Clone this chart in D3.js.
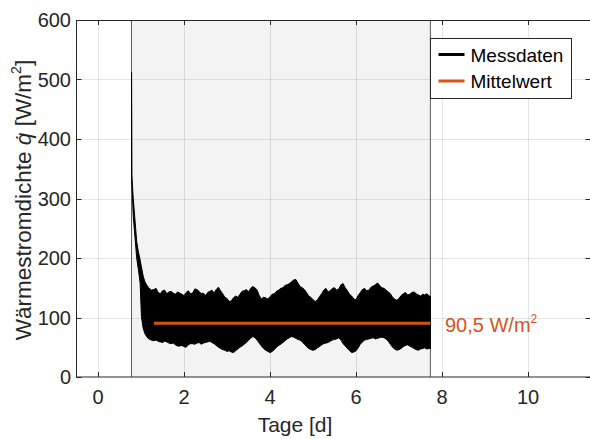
<!DOCTYPE html>
<html>
<head>
<meta charset="utf-8">
<script src="https://cdn.jsdelivr.net/npm/d3@7"></script>
<style>
    body { margin: 0; background: #fff; }
    svg { display: block; font-family: "Liberation Sans", Arial, sans-serif; }
</style>
</head>
<body>
<svg id="chart" width="590" height="439"></svg>
<script>
// --- Data ---
const xTicks = [0, 2, 4, 6, 8, 10];
const yTicks = [0, 100, 200, 300, 400, 500, 600];
const windowStart = 0.78;   // shaded evaluation window [d]
const windowEnd = 7.73;
const meanValue = 90.5;     // W/m²
const meanStart = 1.3;
const meanLabel = '90,5 W/m';

// envelope of the measured signal (days, upper/lower bound in W/m²)
const days = [0.78, 0.785, 0.82, 0.86, 0.90, 0.94, 0.98, 1.01, 1.05, 1.09, 1.13, 1.18, 1.24,
    1.3, 1.4, 1.5, 1.6, 1.7, 1.8, 1.9, 2.0, 2.1, 2.2, 2.3, 2.4, 2.5, 2.6, 2.7, 2.8, 2.9,
    3.0, 3.1, 3.2, 3.3, 3.4, 3.5, 3.6, 3.7, 3.8, 3.9, 4.0, 4.1, 4.2, 4.3, 4.4, 4.5, 4.6,
    4.7, 4.8, 4.9, 5.0, 5.1, 5.2, 5.3, 5.4, 5.5, 5.6, 5.7, 5.8, 5.9, 6.0, 6.1, 6.2, 6.3,
    6.4, 6.5, 6.6, 6.7, 6.8, 6.9, 7.0, 7.1, 7.2, 7.3, 7.4, 7.5, 7.6, 7.7, 7.73];
const upper = [512, 340, 300, 264, 228, 210, 197, 185, 170, 160, 155, 150, 146,
    147, 142, 145, 140, 144, 139, 141, 137, 145, 141, 147, 140, 137, 144, 141, 151, 140,
    132, 128, 136, 139, 145, 143, 152, 146, 131, 133, 135, 140, 146, 150, 155, 160, 164,
    152, 147, 136, 130, 129, 140, 149, 145, 150, 148, 157, 145, 136, 130, 142, 149, 146,
    153, 158, 150, 146, 140, 131, 132, 140, 138, 142, 140, 136, 138, 136, 136];
const lower = [505, 330, 270, 235, 200, 180, 158, 101, 82, 73, 68, 64, 62,
    61, 60, 58, 59, 56, 54, 52, 51, 54, 56, 57, 55, 58, 60, 56, 50, 46,
    43, 42, 44, 50, 55, 62, 68, 62, 52, 45, 41, 46, 53, 58, 64, 68, 65,
    62, 55, 48, 45, 49, 54, 57, 60, 63, 66, 56, 48, 41, 44, 55, 62, 64,
    66, 65, 67, 64, 55, 47, 46, 51, 54, 50, 46, 47, 49, 48, 48];

// in-between readings of the same envelope
const daysMid = [1.35, 1.45, 1.55, 1.65, 1.75, 1.85, 1.95, 2.05, 2.15, 2.25, 2.35, 2.45, 2.55,
    2.65, 2.75, 2.85, 2.95, 3.05, 3.15, 3.25, 3.35, 3.45, 3.55, 3.65, 3.75, 3.85, 3.95, 4.05,
    4.15, 4.25, 4.35, 4.45, 4.55, 4.65, 4.75, 4.85, 4.95, 5.05, 5.15, 5.25, 5.35, 5.45, 5.55,
    5.65, 5.75, 5.85, 5.95, 6.05, 6.15, 6.25, 6.35, 6.45, 6.55, 6.65, 6.75, 6.85, 6.95, 7.05,
    7.15, 7.25, 7.35, 7.45, 7.55, 7.65];
const upperMid = [149, 140, 146, 143, 141, 143, 139, 142, 140, 148, 144, 141, 142,
    146, 147, 145, 134, 127, 133, 134, 144, 147, 149, 150, 137, 134, 131, 139,
    144, 149, 154, 157, 163, 158, 150, 142, 134, 127, 135, 146, 143, 149, 146,
    155, 150, 139, 131, 137, 147, 145, 151, 155, 154, 149, 143, 134, 129, 137,
    142, 139, 143, 138, 139, 140];
const lowerMid = [62, 59, 60, 57, 57, 52, 53, 50, 56, 55, 58, 57, 59,
    58, 53, 48, 45, 44, 41, 47, 52, 58, 65, 66, 57, 48, 43, 43,
    50, 55, 61, 66, 67, 63, 59, 51, 46, 46, 51, 56, 58, 62, 64,
    62, 52, 44, 42, 49, 59, 63, 65, 64, 66, 66, 60, 50, 45, 48,
    53, 52, 48, 45, 48, 47];

const legendItems = [
    { label: 'Messdaten', color: '#000000' },
    { label: 'Mittelwert', color: '#d95319' }
];

(function() {
    // --- Layout ---
    const svg = d3.select('#chart');
    const pLeft = 76.5, pRight = 592.5, pTop = 20, pBottom = 377;
    const axisColor = '#262626';
    const meanColor = '#d95319';

    const x = d3.scaleLinear().domain([-0.5, 11.5]).range([pLeft, pRight]);
    const y = d3.scaleLinear().domain([0, 600]).range([pBottom, pTop]);

    svg.append('defs').append('clipPath').attr('id', 'plotclip')
        .append('rect').attr('x', pLeft).attr('y', pTop).attr('width', pRight - pLeft).attr('height', pBottom - pTop);

    const plot = svg.append('g').attr('clip-path', 'url(#plotclip)');

    // shaded evaluation window
    plot.append('rect')
        .attr('x', x(windowStart)).attr('y', pTop)
        .attr('width', x(windowEnd) - x(windowStart)).attr('height', pBottom - pTop)
        .attr('fill', '#f3f3f3');

    // grid
    plot.selectAll('.gx').data(xTicks).enter().append('line')
        .attr('x1', d => Math.round(x(d)) + 0.5).attr('x2', d => Math.round(x(d)) + 0.5)
        .attr('y1', pTop).attr('y2', pBottom)
        .attr('stroke', '#000').attr('stroke-opacity', 0.1);
    plot.selectAll('.gy').data(yTicks).enter().append('line')
        .attr('y1', d => Math.round(y(d)) + 0.5).attr('y2', d => Math.round(y(d)) + 0.5)
        .attr('x1', pLeft).attr('x2', pRight)
        .attr('stroke', '#000').attr('stroke-opacity', 0.1);

    // window boundaries
    plot.selectAll('.wb').data([windowStart, windowEnd]).enter().append('line')
        .attr('x1', d => x(d)).attr('x2', d => x(d))
        .attr('y1', pTop).attr('y2', pBottom)
        .attr('stroke', '#5a5a5a').attr('stroke-width', 1);

    // measured signal as a filled envelope
    const band = days.map((d, i) => ({ d: d, hi: upper[i], lo: lower[i] }))
        .concat(daysMid.map((d, i) => ({ d: d, hi: upperMid[i], lo: lowerMid[i] })))
        .sort((a, b) => a.d - b.d);
    plot.append('path')
        .datum(band)
        .attr('d', d3.area().x(p => x(p.d)).y0(p => y(p.lo)).y1(p => y(p.hi)))
        .attr('fill', '#000').attr('stroke', '#000').attr('stroke-width', 1)
        .attr('stroke-linejoin', 'miter');

    // mean line
    plot.append('line')
        .attr('x1', x(meanStart)).attr('x2', x(windowEnd))
        .attr('y1', y(meanValue)).attr('y2', y(meanValue))
        .attr('stroke', meanColor).attr('stroke-width', 3);

    // --- Axes box ---
    const box = svg.append('g').attr('stroke', axisColor).attr('stroke-width', 1).attr('fill', 'none');
    box.append('rect').attr('x', pLeft).attr('y', pTop + 0.5).attr('width', pRight - pLeft).attr('height', pBottom - pTop - 0.5);

    const tickLen = 5;
    xTicks.forEach(t => {
        const px = Math.round(x(t)) + 0.5;
        box.append('line').attr('x1', px).attr('x2', px).attr('y1', pBottom).attr('y2', pBottom - tickLen);
        box.append('line').attr('x1', px).attr('x2', px).attr('y1', pTop).attr('y2', pTop + tickLen);
    });
    yTicks.forEach(t => {
        const py = Math.round(y(t)) + 0.5;
        box.append('line').attr('y1', py).attr('y2', py).attr('x1', pLeft).attr('x2', pLeft + tickLen);
        box.append('line').attr('y1', py).attr('y2', py).attr('x1', pRight - 2).attr('x2', pRight - 2 - tickLen);
    });

    // tick labels
    svg.selectAll('.xt').data(xTicks).enter().append('text')
        .attr('x', d => x(d)).attr('y', 404)
        .attr('text-anchor', 'middle').attr('font-size', 20).attr('fill', axisColor)
        .text(d => d);
    svg.selectAll('.yt').data(yTicks).enter().append('text')
        .attr('x', 71).attr('y', d => y(d) + 7)
        .attr('text-anchor', 'end').attr('font-size', 20).attr('fill', axisColor)
        .text(d => d);

    // axis titles
    svg.append('text')
        .attr('x', 295).attr('y', 432)
        .attr('text-anchor', 'middle').attr('font-size', 21).attr('fill', axisColor)
        .text('Tage [d]');

    const yTitle = svg.append('text')
        .attr('transform', 'translate(31,200) rotate(-90)')
        .attr('text-anchor', 'middle').attr('font-size', 22.5).attr('fill', axisColor);
    yTitle.append('tspan').text('Wärmestromdichte ');
    yTitle.append('tspan').attr('font-style', 'italic').text('q\u0307');
    yTitle.append('tspan').text(' [W/m');
    yTitle.append('tspan').attr('font-size', 14).attr('dy', -10).text('2');
    yTitle.append('tspan').attr('dy', 10).text(']');

    // mean value annotation
    const ann = svg.append('text')
        .attr('x', 445).attr('y', 332)
        .attr('font-size', 20).attr('fill', meanColor);
    ann.append('tspan').text(meanLabel);
    ann.append('tspan').attr('font-size', 12).attr('dy', -9).text('2');

    // --- Legend ---
    const legend = svg.append('g').attr('transform', 'translate(430.5,38.5)');
    legend.append('rect').attr('width', 141).attr('height', 60)
        .attr('fill', '#fff').attr('stroke', axisColor).attr('stroke-width', 1);
    const entry = legend.selectAll('.le').data(legendItems).enter().append('g')
        .attr('transform', (d, i) => `translate(0,${16 + i * 26.5})`);
    entry.append('line').attr('x1', 8).attr('x2', 34).attr('y1', 0).attr('y2', 0)
        .attr('stroke', d => d.color).attr('stroke-width', 3);
    entry.append('text').attr('x', 40).attr('y', 7)
        .attr('font-size', 19).attr('fill', '#000')
        .text(d => d.label);
})();
</script>
</body>
</html>
